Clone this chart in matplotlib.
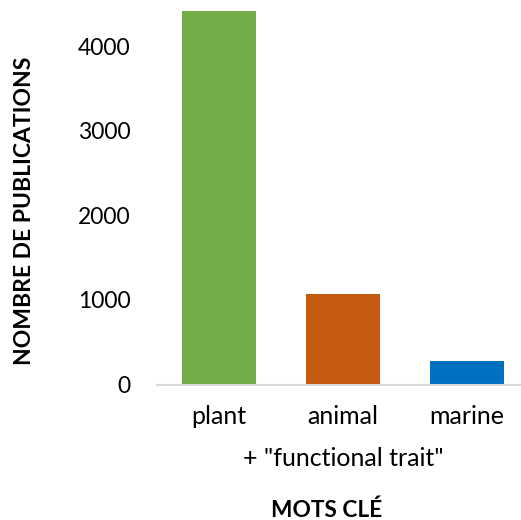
import numpy as np
import matplotlib.pyplot as plt

plt.rcParams['font.family'] = ['Lato', 'DejaVu Sans']

# données
categories = ['plant', 'animal', 'marine']
publications = [4415, 1070, 275]
couleurs = ['#70AD47', '#C55A11', '#0070C0']
yticks = [0, 1000, 2000, 3000, 4000]

W, H = 521, 520
fig = plt.figure(figsize=(W / 100, H / 100), dpi=100)
ax = fig.add_axes([157 / W, (H - 384.5) / H, 364 / W, 384.5 / H])

x = np.arange(len(categories))
ax.bar(x, publications, width=0.6, color=couleurs, zorder=2)

ax.set_xlim(-0.5, -0.5 + 364 / 124)
ax.set_ylim(0, 384.5 / 84.6 * 1000)

ax.set_yticks(yticks)
ax.set_xticks(x)
ax.set_xticklabels(categories)
ax.tick_params(axis='both', length=0, colors='black')
ax.tick_params(axis='y', pad=19, labelsize=16.5)
ax.tick_params(axis='x', pad=15, labelsize=18)

for s in ['top', 'right', 'left']:
    ax.spines[s].set_visible(False)
ax.spines['bottom'].set_color('#D9D9D9')
ax.spines['bottom'].set_linewidth(1.5)
ax.spines['bottom'].set_zorder(3)

fig.text(343 / W, 1 - 458 / H, '+ "functional trait"', ha='center', va='center', fontsize=18)
fig.text(327 / W, 1 - 510 / H, 'MOTS CLÉ', ha='center', va='center', fontsize=16.3, fontweight='bold')
fig.text(25 / W, 1 - 211 / H, 'NOMBRE DE PUBLICATIONS', ha='center', va='center',
         rotation=90, fontsize=16.5, fontweight='bold')

fig.savefig('out.png', dpi=100)
